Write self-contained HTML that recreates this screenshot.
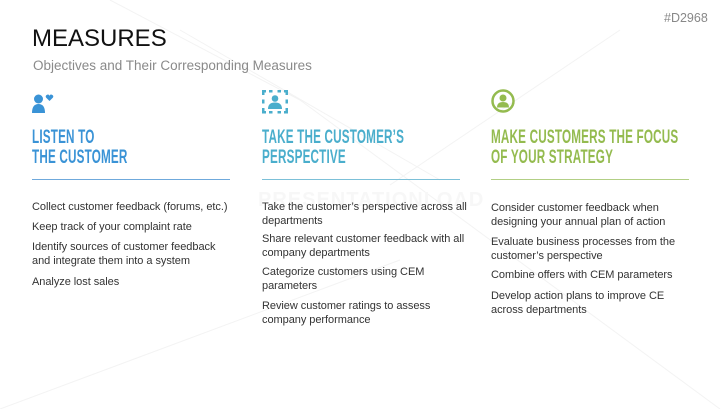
<!DOCTYPE html>
<html><head><meta charset="utf-8"><style>
body{margin:0;width:727px;height:409px;background:#fff;position:relative;overflow:hidden;font-family:"Liberation Sans",sans-serif}
.a{position:absolute}
.t{position:absolute;font-size:11px;line-height:13.5px;color:#333;width:230px;letter-spacing:-0.05px}
.h{position:absolute;top:127px;font-weight:bold;font-size:19.5px;line-height:20px;transform:scaleX(0.6);transform-origin:left top;white-space:nowrap;letter-spacing:0.3px}
.ln{position:absolute;top:179px;height:1px;width:198px}
</style></head><body>
<svg class="a" style="left:0;top:0" width="727" height="409">
<g stroke="#f3f3f3" stroke-width="1" fill="none">
<line x1="110" y1="0" x2="300" y2="100"/>
<line x1="300" y1="100" x2="720" y2="409"/>
<line x1="180" y1="30" x2="440" y2="180"/>
<line x1="390" y1="185" x2="620" y2="30"/>
<line x1="0" y1="409" x2="400" y2="260"/>
</g>
<text x="258" y="206" font-family="Liberation Sans" font-weight="bold" font-size="20" fill="#f7f7f7" letter-spacing="1">PRESENTATIONLOAD</text>
<g fill="#3a93d6"><circle cx="38.5" cy="99" r="4.5"/><path d="M32 113 q0-9 6.5-9 q6.5 0 6.5 9z"/><path d="M46 97.5 l3.5 3.5 l3.5-3.5 a1.8 1.8 0 0 0-3.5-1.8 a1.8 1.8 0 0 0-3.5 1.8z"/></g>
<g fill="#4aaecc"><rect x="262" y="90" width="4" height="2.5"/><rect x="262" y="90" width="2.5" height="5"/><rect x="284" y="90" width="4" height="2.5"/><rect x="285.5" y="90" width="2.5" height="5"/><rect x="262" y="111" width="4" height="2.5"/><rect x="262" y="108" width="2.5" height="5.5"/><rect x="284" y="111" width="4" height="2.5"/><rect x="285.5" y="108" width="2.5" height="5.5"/><rect x="269" y="90" width="3.5" height="2.5"/><rect x="277.5" y="90" width="3.5" height="2.5"/><rect x="269" y="111" width="3.5" height="2.5"/><rect x="277.5" y="111" width="3.5" height="2.5"/><rect x="262" y="99.5" width="2.5" height="4"/><rect x="285.5" y="99.5" width="2.5" height="4"/><circle cx="275" cy="98.5" r="3.3"/><path d="M268 109 q0-6.5 7-6.5 q7 0 7 6.5z"/></g>
<circle cx="503" cy="101" r="10.5" fill="none" stroke="#94bb4f" stroke-width="2.5"/>
<g fill="#94bb4f"><circle cx="503" cy="98" r="3.5"/><path d="M497 107.5 q0-5.5 6-5.5 q6 0 6 5.5z"/></g>
</svg>
<div class="a" style="left:32px;top:25px;font-size:24px;color:#111">MEASURES</div>
<div class="a" style="left:33px;top:58px;font-size:13.5px;color:#8a8a8a">Objectives and Their Corresponding Measures</div>
<div class="a" style="left:664px;top:11px;font-size:12.5px;color:#888">#D2968</div>

<div class="h" style="left:32px;color:#3a93d6">LISTEN TO<br>THE CUSTOMER</div>
<div class="h" style="left:262px;color:#4aaecc">TAKE THE CUSTOMER’S<br>PERSPECTIVE</div>
<div class="h" style="left:491px;color:#94bb4f">MAKE CUSTOMERS THE FOCUS<br>OF YOUR STRATEGY</div>
<div class="ln" style="left:32px;background:#6fa9dc"></div>
<div class="ln" style="left:262px;background:#7cc0d8"></div>
<div class="ln" style="left:491px;background:#b2cf85"></div>

<div class="t" style="left:32px;top:201px">Collect customer feedback (forums, etc.)</div>
<div class="t" style="left:32px;top:221px">Keep track of your complaint rate</div>
<div class="t" style="left:32px;top:241px">Identify sources of customer feedback<br>and integrate them into a system</div>
<div class="t" style="left:32px;top:276px">Analyze lost sales</div>

<div class="t" style="left:262px;top:201px">Take the customer’s perspective across all<br>departments</div>
<div class="t" style="left:262px;top:233px">Share relevant customer feedback with all<br>company departments</div>
<div class="t" style="left:262px;top:266px">Categorize customers using CEM<br>parameters</div>
<div class="t" style="left:262px;top:300px">Review customer ratings to assess<br>company performance</div>

<div class="t" style="left:491px;top:202px">Consider customer feedback when<br>designing your annual plan of action</div>
<div class="t" style="left:491px;top:236px">Evaluate business processes from the<br>customer’s perspective</div>
<div class="t" style="left:491px;top:269px">Combine offers with CEM parameters</div>
<div class="t" style="left:491px;top:290px">Develop action plans to improve CE<br>across departments</div>
</body></html>
